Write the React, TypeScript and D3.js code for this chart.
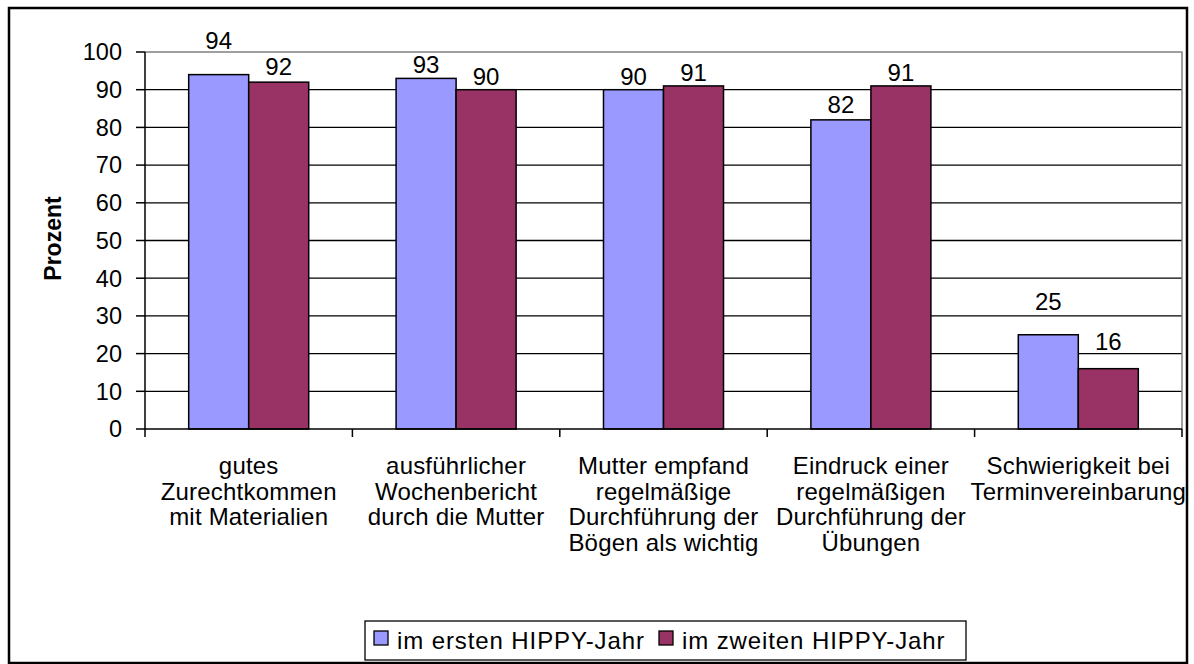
import React from 'react';
import * as d3 from 'd3';

// categories (line-broken like the original axis labels)
const categories = [
  ['gutes', 'Zurechtkommen', 'mit Materialien'],
  ['ausführlicher', 'Wochenbericht', 'durch die Mutter'],
  ['Mutter empfand', 'regelmäßige', 'Durchführung der', 'Bögen als wichtig'],
  ['Eindruck einer', 'regelmäßigen', 'Durchführung der', 'Übungen'],
  ['Schwierigkeit bei', 'Terminvereinbarung'],
];
const seriesNames = ['im ersten HIPPY-Jahr', 'im zweiten HIPPY-Jahr'];
const firstYear = [94, 93, 90, 82, 25];
const secondYear = [92, 90, 91, 91, 16];
const yTicks = [0, 10, 20, 30, 40, 50, 60, 70, 80, 90, 100];
// extra lift of the data labels (px), as placed in the original
const labelLift = [
  [21, 0, 0, 2, 20],
  [2, 0, 0, 0, 14],
];

const colors = ['#9999FF', '#993366'];
const font = '"Liberation Sans", Arial, sans-serif';

const W = 1194;
const H = 664;
const plot = { left: 145, right: 1182, top: 52, bottom: 429 };

export default function App() {
  const series = [firstYear, secondYear];
  const idx = categories.map((_, i) => String(i));

  const x0 = d3.scaleBand<string>().domain(idx).range([plot.left, plot.right]).padding(0);
  const x1 = d3.scaleBand<string>()
    .domain(seriesNames)
    .range([0, x0.bandwidth()])
    .paddingInner(0)
    .paddingOuter(0.728);
  const y = d3.scaleLinear().domain([0, 100]).range([plot.bottom, plot.top]);

  const boundaries = idx.map(d => x0(d)!).concat([plot.right]);

  return (
    <svg width={W} height={H} style={{ position: 'absolute', left: 0, top: 0, background: '#fff' }}>
      {/* outer frame */}
      <rect x={9} y={8} width={1178} height={655} fill="#fff" stroke="#000" strokeWidth={2.5} />

      {/* gridlines */}
      {yTicks.filter(t => t > 0 && t < 100).map(t => (
        <line key={t} x1={plot.left} x2={plot.right} y1={y(t)} y2={y(t)} stroke="#000" strokeWidth={1.3} />
      ))}
      {/* plot border top/right */}
      <path
        d={`M${plot.left},${y(100)}H${plot.right}V${plot.bottom}`}
        fill="none"
        stroke="#808080"
        strokeWidth={1.5}
      />

      {/* bars */}
      {series.map((vals, s) =>
        vals.map((v, i) => (
          <rect
            key={`${s}-${i}`}
            x={x0(String(i))! + x1(seriesNames[s])!}
            y={y(v)}
            width={x1.bandwidth()}
            height={y(0) - y(v)}
            fill={colors[s]}
            stroke="#000"
            strokeWidth={1.5}
          />
        ))
      )}

      {/* data labels */}
      {series.map((vals, s) =>
        vals.map((v, i) => (
          <text
            key={`l${s}-${i}`}
            x={x0(String(i))! + x1(seriesNames[s])! + x1.bandwidth() / 2}
            y={y(v) - 5 - labelLift[s][i]}
            textAnchor="middle"
            fontFamily={font}
            fontSize={24}
            fill="#000"
          >
            {v}
          </text>
        ))
      )}

      {/* y axis */}
      <line x1={plot.left} x2={plot.left} y1={plot.top} y2={plot.bottom} stroke="#000" strokeWidth={1.5} />
      {yTicks.map(t => (
        <g key={t}>
          <line x1={136} x2={plot.left} y1={y(t)} y2={y(t)} stroke="#000" strokeWidth={1.5} />
          <text x={122} y={y(t) + 8.3} textAnchor="end" fontFamily={font} fontSize={23.5} fill="#000">
            {t}
          </text>
        </g>
      ))}
      <text
        transform={`translate(61, ${(plot.top + plot.bottom) / 2 - 2}) rotate(-90)`}
        textAnchor="middle"
        fontFamily={font}
        fontSize={23}
        fontWeight="bold"
        fill="#000"
      >
        Prozent
      </text>

      {/* x axis */}
      <line x1={plot.left} x2={plot.right} y1={plot.bottom} y2={plot.bottom} stroke="#000" strokeWidth={1.5} />
      {boundaries.map((b, i) => (
        <line key={i} x1={b} x2={b} y1={plot.bottom} y2={plot.bottom + 8} stroke="#000" strokeWidth={1.5} />
      ))}
      {categories.map((lines, i) => (
        <text
          key={i}
          x={x0(String(i))! + x0.bandwidth() / 2}
          y={474}
          textAnchor="middle"
          fontFamily={font}
          fontSize={24}
          letterSpacing={0.2}
          fill="#000"
        >
          {lines.map((ln, k) => (
            <tspan key={k} x={x0(String(i))! + x0.bandwidth() / 2} dy={k === 0 ? 0 : 25.5}>
              {ln}
            </tspan>
          ))}
        </text>
      ))}

      {/* legend */}
      <rect x={365} y={621} width={601} height={39} fill="#fff" stroke="#000" strokeWidth={1.3} />
      {seriesNames.map((name, s) => {
        const lx = s === 0 ? 374 : 659;
        return (
          <g key={name}>
            <rect x={lx} y={631} width={14} height={14} fill={colors[s]} stroke="#000" strokeWidth={1.3} />
            <text x={lx + 23} y={649} fontFamily={font} fontSize={24} letterSpacing={0.9} fill="#000">
              {name}
            </text>
          </g>
        );
      })}
    </svg>
  );
}
